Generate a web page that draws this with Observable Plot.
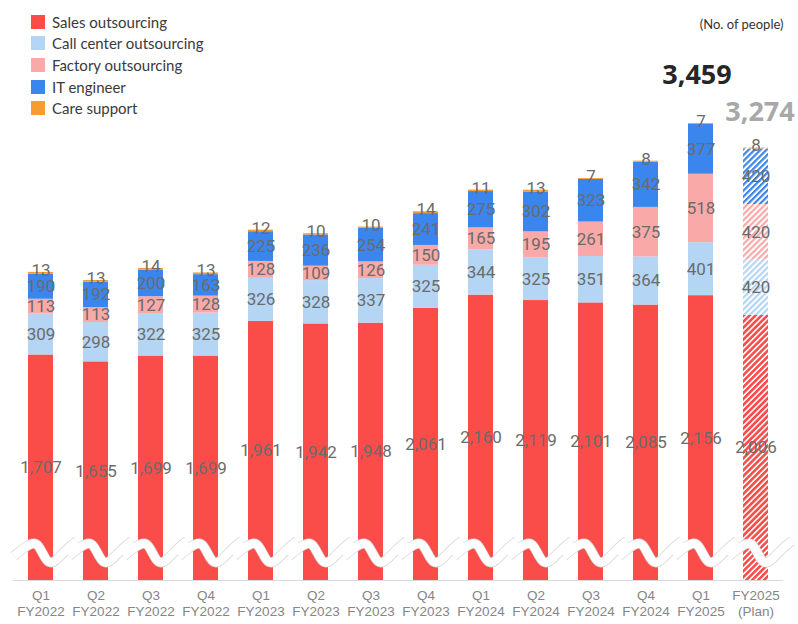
<!DOCTYPE html>
<html>
<head>
<meta charset="utf-8">
<script src="https://cdn.jsdelivr.net/npm/d3@7"></script>
<script src="https://cdn.jsdelivr.net/npm/@observablehq/plot@0.6"></script>
<style>
  html, body { margin: 0; padding: 0; background: #fff; }
  #wrap { position: relative; width: 798px; height: 624px; }
  #legend { position: absolute; left: 31px; top: 11px; font-family: Lato, "Open Sans", sans-serif; font-size: 15px; color: #3a3a3a; }
  #legend .row { display: flex; align-items: center; height: 21.67px; }
  #legend .sw { width: 14px; height: 14px; margin-right: 7px; }
</style>
</head>
<body>
<div id="wrap"><div id="legend"></div></div>
<script>
// ---- data ----
const periods = [
  "Q1\nFY2022", "Q2\nFY2022", "Q3\nFY2022", "Q4\nFY2022",
  "Q1\nFY2023", "Q2\nFY2023", "Q3\nFY2023", "Q4\nFY2023",
  "Q1\nFY2024", "Q2\nFY2024", "Q3\nFY2024", "Q4\nFY2024",
  "Q1\nFY2025", "FY2025\n(Plan)"
];
const seriesNames = ["Sales outsourcing", "Call center outsourcing", "Factory outsourcing", "IT engineer", "Care support"];
const sales   = [1707, 1655, 1699, 1699, 1961, 1942, 1948, 2061, 2160, 2119, 2101, 2085, 2156, 2006];
const callCtr = [309, 298, 322, 325, 326, 328, 337, 325, 344, 325, 351, 364, 401, 420];
const factory = [113, 113, 127, 128, 128, 109, 126, 150, 165, 195, 261, 375, 518, 420];
const itEng   = [190, 192, 200, 163, 225, 236, 254, 241, 275, 302, 323, 342, 377, 420];
const care    = [13, 13, 14, 13, 12, 10, 10, 14, 11, 13, 7, 8, 7, 8];
const planPeriod = "FY2025\n(Plan)";
const totalsShown = [
  {period: "Q1\nFY2025", total: 3459, label: "3,459"},
  {period: "FY2025\n(Plan)", total: 3274, label: "3,274"}
];
const unitLabel = "(No. of people)";
const breakAt = 212; // value where the axis-break symbol is drawn

// ---- styles ----
const colors = ["#fa4d4a", "#b4d6f4", "#f9aaa8", "#3a86ee", "#f89c31"];
const hatchIds = ["hp0", "hp1", "hp2", "hp3", "hp4"];
const hatchStripe = [2.6, 2.2, 2.2, 2.2, 2.2];

const valuesBySeries = [sales, callCtr, factory, itEng, care];
const data = periods.flatMap((p, i) => seriesNames.map((s, j) => ({
  period: p,
  series: s,
  value: valuesBySeries[j][i],
  key: (p === planPeriod ? "plan:" : "") + s
})));

const colorDomain = seriesNames.concat(seriesNames.map(s => "plan:" + s));
const colorRange = colors.concat(hatchIds.map(id => `url(#${id})`));
const fmt = d3.format(",");

// wave symbol for the axis break
const wave = {
  draw(ctx) {
    ctx.moveTo(-27, 3.5);
    ctx.bezierCurveTo(-20, -2, -13, -9, -7, -9);
    ctx.bezierCurveTo(0, -9, 3, 10, 10, 10);
    ctx.bezierCurveTo(16, 10, 22, -2, 36, -11.5);
  }
};

const chart = Plot.plot({
  width: 798,
  height: 624,
  marginTop: 0,
  marginBottom: 44,
  marginLeft: 13,
  marginRight: 15,
  x: {domain: periods, paddingInner: 0.545, paddingOuter: 0.2725, axis: null},
  y: {domain: [0, 4390], axis: null},
  color: {domain: colorDomain, range: colorRange},
  style: {background: "transparent"},
  marks: [
    Plot.ruleY([0], {stroke: "#d9d9d9", strokeWidth: 1}),
    Plot.barY(data, {x: "period", y: "value", z: "series", fill: "key"}),
    Plot.dot(periods, {x: d => d, y: () => breakAt, symbol: wave, r: 5, fill: "none", stroke: "#d9d9d9", strokeWidth: 10}),
    Plot.dot(periods, {x: d => d, y: () => breakAt, symbol: wave, r: 5, fill: "none", stroke: "white", strokeWidth: 8.4}),
    Plot.text(data, Plot.stackY({
      x: "period", y: "value", z: "series",
      text: d => d.series === "Care support" ? "" : fmt(d.value),
      fill: "#6b6b6b", fontSize: 17, fontFamily: "Roboto, sans-serif"
    })),
    Plot.text(data, Plot.stackY2({
      x: "period", y: "value", z: "series",
      text: d => d.series === "Care support" ? fmt(d.value) : "",
      fill: "#6b6b6b", fontSize: 17, fontFamily: "Roboto, sans-serif", dy: -2
    })),
    Plot.text(totalsShown.slice(0, 1), {
      x: "period", y: "total", text: "label", dy: -48, dx: -4,
      fontSize: 27, fontWeight: "bold", fill: "#262626", fontFamily: "'Open Sans', sans-serif"
    }),
    Plot.text(totalsShown.slice(1), {
      x: "period", y: "total", text: "label", dy: -36, dx: 4,
      fontSize: 27, fontWeight: "bold", fill: "#a8a8a8", fontFamily: "'Open Sans', sans-serif"
    }),
    Plot.text(periods, {
      x: d => d, text: d => d, frameAnchor: "bottom", lineAnchor: "top", dy: 8,
      lineHeight: 1.2, fontSize: 13.5, fill: "#858585", fontFamily: "'Liberation Sans', Arial, sans-serif"
    }),
    Plot.text([unitLabel], {
      text: d => d, frameAnchor: "top-right", textAnchor: "end", dy: 19,
      fontSize: 13, fill: "#333", fontFamily: "Lato, sans-serif"
    })
  ]
});

// hatch pattern defs for the plan bar
const defs = document.createElementNS("http://www.w3.org/2000/svg", "defs");
defs.innerHTML = hatchIds.map((id, j) =>
  `<pattern id="${id}" patternUnits="userSpaceOnUse" width="4.2" height="4.2" patternTransform="rotate(45)">
     <rect width="4.2" height="4.2" fill="white"/>
     <rect width="${hatchStripe[j]}" height="4.2" fill="${colors[j]}"/>
   </pattern>`).join("");
chart.prepend(defs);

document.getElementById("wrap").prepend(chart);

// legend
const legend = document.getElementById("legend");
seriesNames.forEach((s, j) => {
  const row = document.createElement("div");
  row.className = "row";
  row.innerHTML = `<div class="sw" style="background:${colors[j]}"></div><span>${s}</span>`;
  legend.appendChild(row);
});
</script>
</body>
</html>
